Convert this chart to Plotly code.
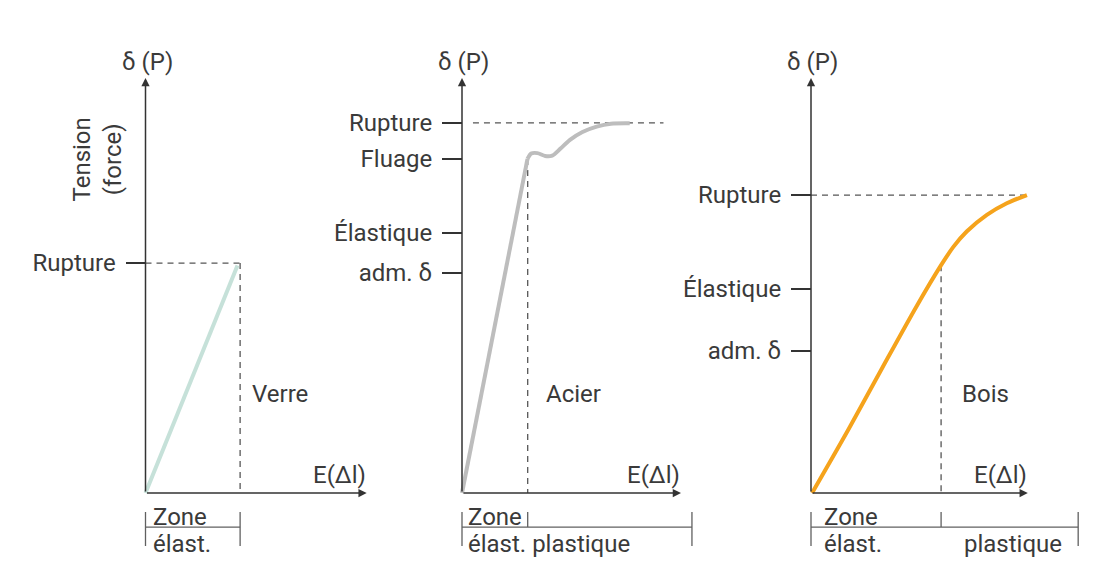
import plotly.graph_objects as go

# ---------------- data ----------------
materials = ["Verre", "Acier", "Bois"]

verre_x = [0, 42.0]
verre_y = [0, 54.8]

acier_x = [0, 29.9, 31.6, 34.4, 38.0, 41.2, 45.0, 49.3, 55.0, 61.5, 68.0, 76.6]
acier_y = [0, 80.5, 81.8, 81.9, 81.2, 81.3, 83.0, 85.1, 87.0, 88.3, 89.0, 89.1]

bois_x = [0.5, 17.4, 32.7, 48.1, 59.4, 65.0, 71.1, 80.3, 89.4, 98.6]
bois_y = [0.0, 15.6, 30.3, 44.9, 54.9, 59.3, 63.0, 67.0, 69.8, 71.8]

verre_tick_vals = [55.4]
verre_tick_text = ["Rupture"]
acier_tick_vals = [89.2, 80.5, 62.7, 53.0]
acier_tick_text = ["Rupture", "Fluage", "Élastique", "adm. δ"]
bois_tick_vals = [71.8, 49.2, 34.3]
bois_tick_text = ["Rupture", "Élastique", "adm. δ"]

elastic_limit_x = [43.2, 30.0, 59.4]
elastic_limit_y = [55.4, 80.5, 54.9]
rupture_y = [55.4, 89.2, 71.8]
rupture_dash_start = [0, 5, 0]
rupture_dash_end = [43.2, 92, 98.6]
zone_end = [43.2, 105, 122]
axis_end_x = [101, 100, 99]
axis_top_y = 100
# index where each curve stops being straight (elastic part drawn as straight segment)
linear_until = [1, 1, 0]

# ---------------- style / layout ----------------
FONT = "Roboto"
FS = 24
TXT = "#3a3a3a"
AXC = "#333333"
DASHC = "#555555"
BRC = "#606060"
curve_colors = ["#c6e1d9", "#bdbdbd", "#f5a31c"]

OFF = 8  # page body margin
W, H = 1120 - 2 * OFF, 581 - 2 * OFF
Y0PX, YSC = 493 - OFF, 4.15
YR = [-16, 106]
XSC = 2.19
XR = [-8, 126]
origins_px = [145.5 - OFF, 462 - OFF, 811 - OFF]

ydom = [1 - (Y0PX - YR[0] * YSC) / H, 1 - (Y0PX - YR[1] * YSC) / H]

fig = go.Figure()

curves = [(verre_x, verre_y), (acier_x, acier_y), (bois_x, bois_y)]
ticks = [(verre_tick_vals, verre_tick_text), (acier_tick_vals, acier_tick_text),
         (bois_tick_vals, bois_tick_text)]
label_x = [47.7, 37.4, 68.0]
zone_x = [2.7, 2.0, 5.0]

tf = dict(family=FONT, size=FS, color=TXT)
annotations = []
for i in range(3):
    xa = "x" if i == 0 else f"x{i+1}"
    ya = "y" if i == 0 else f"y{i+1}"
    o = origins_px[i]
    fig.update_layout(**{
        ("xaxis" if i == 0 else f"xaxis{i+1}"): dict(
            domain=[(o + XR[0] * XSC) / W, (o + XR[1] * XSC) / W], range=XR,
            anchor=ya, showgrid=False, zeroline=False, showline=False,
            showticklabels=False, ticks="", fixedrange=True),
        ("yaxis" if i == 0 else f"yaxis{i+1}"): dict(
            domain=ydom, range=YR, anchor="free", position=o / W,
            showgrid=False, zeroline=False, showline=False,
            tickmode="array", tickvals=ticks[i][0], ticktext=ticks[i][1],
            ticks="outside", ticklen=20, tickwidth=1.5, tickcolor=AXC,
            ticklabelstandoff=5, tickfont=tf, fixedrange=True),
    })

    # dashed guides
    fig.add_trace(go.Scatter(
        x=[rupture_dash_start[i], rupture_dash_end[i], None, elastic_limit_x[i], elastic_limit_x[i]],
        y=[rupture_y[i], rupture_y[i], None, elastic_limit_y[i], 0],
        mode="lines", line=dict(color=DASHC, width=1.3, dash="6px,5px"),
        xaxis=xa, yaxis=ya, hoverinfo="skip", showlegend=False))

    # curve: straight elastic part + smooth plastic part
    cx, cy = curves[i]
    k = linear_until[i]
    if k > 0:
        fig.add_trace(go.Scatter(
            x=cx[:k + 1], y=cy[:k + 1], mode="lines",
            line=dict(color=curve_colors[i], width=4),
            xaxis=xa, yaxis=ya, hoverinfo="skip", showlegend=False))
    if k < len(cx) - 1:
        fig.add_trace(go.Scatter(
            x=cx[k:], y=cy[k:], mode="lines",
            line=dict(color=curve_colors[i], width=4, shape="spline", smoothing=0.8),
            xaxis=xa, yaxis=ya, hoverinfo="skip", showlegend=False))

    # zone bracket
    bx = [0, zone_end[i], None, 0, 0, None, zone_end[i], zone_end[i]]
    by = [-8.2, -8.2, None, -4.6, -12.8, None, -4.6, -12.8]
    if i > 0:
        bx += [None, elastic_limit_x[i], elastic_limit_x[i]]
        by += [None, -4.6, -8.2]
    fig.add_trace(go.Scatter(
        x=bx, y=by, mode="lines", line=dict(color=BRC, width=1.3),
        xaxis=xa, yaxis=ya, hoverinfo="skip", showlegend=False))

    # axes with arrowheads
    for (tx, ty, sx, sy) in [(0, axis_top_y, 0, 0), (axis_end_x[i], 0, 0, 0)]:
        annotations.append(dict(
            x=tx, y=ty, ax=sx, ay=sy, xref=xa, yref=ya, axref=xa, ayref=ya,
            text="", showarrow=True, arrowhead=2, arrowsize=1.1,
            arrowwidth=1.5, arrowcolor=AXC, standoff=0, startstandoff=0))

    annotations.append(dict(x=0.8, y=103.9, xref=xa, yref=ya, text="δ (P)",
                            showarrow=False, font=tf, xanchor="center", yanchor="middle"))
    annotations.append(dict(x=axis_end_x[i] + 0.5, y=4.3, xref=xa, yref=ya, text="E(Δl)",
                            showarrow=False, font=tf, xanchor="right", yanchor="middle"))
    annotations.append(dict(x=label_x[i], y=23.9, xref=xa, yref=ya, text=materials[i],
                            showarrow=False, font=tf, xanchor="left", yanchor="middle"))
    annotations.append(dict(x=zone_x[i], y=-5.9, xref=xa, yref=ya, text="Zone",
                            showarrow=False, font=tf, xanchor="left", yanchor="middle"))
    low_text = "élast. plastique" if i == 1 else "élast."
    annotations.append(dict(x=zone_x[i], y=-12.2, xref=xa, yref=ya, text=low_text,
                            showarrow=False, font=tf, xanchor="left", yanchor="middle"))
    if i == 2:
        annotations.append(dict(x=68.9, y=-12.2, xref=xa, yref=ya, text="plastique",
                                showarrow=False, font=tf, xanchor="left", yanchor="middle"))

annotations.append(dict(x=(96.5 - OFF) / W, y=1 - (160 - OFF) / H, xref="paper", yref="paper",
                        text="Tension<br>(force)", showarrow=False, textangle=-90,
                        font=tf, xanchor="center", yanchor="middle"))

fig.update_layout(
    width=W, height=H, margin=dict(l=0, r=0, t=0, b=0),
    paper_bgcolor="white", plot_bgcolor="white",
    annotations=annotations, showlegend=False,
    font=dict(family=FONT, color=TXT),
)

fig.write_html("out.html")
